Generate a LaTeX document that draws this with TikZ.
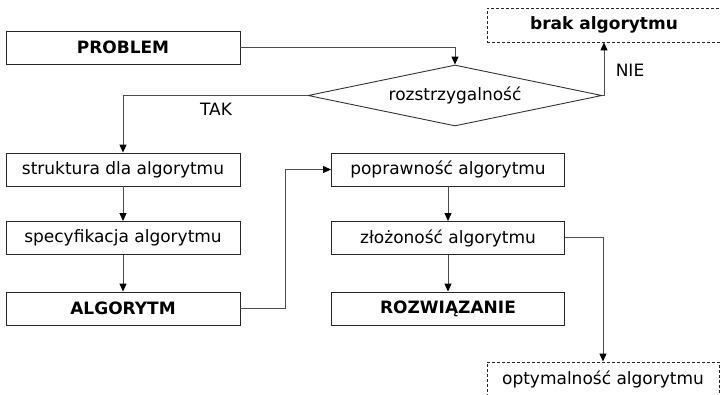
\documentclass[tikz,border=0pt]{standalone}
\usepackage{fontspec}
\setmainfont{DejaVu Sans}
\usetikzlibrary{shapes.geometric,arrows.meta}
\begin{document}
\begin{tikzpicture}[x=1pt,y=-1pt,
  box/.style={draw=black!85,line width=0.9pt,minimum width=234pt,minimum height=33pt,inner sep=0pt,font=\fontsize{17}{20}\selectfont},
  bbox/.style={box,font=\fontsize{17}{20}\selectfont\bfseries},
  dbox/.style={box,dashed,dash pattern=on 3pt off 2pt},
  conn/.style={draw=black!70,line width=1pt,-{Triangle[width=7pt,length=8pt,color=black]}},
  lbl/.style={font=\fontsize{17}{20}\selectfont,inner sep=0pt}]
\useasboundingbox (0,0) rectangle (720,395);
\node[bbox] (problem) at (123,47.5) {PROBLEM};
\node[draw=black!80,line width=0.9pt,diamond,shape aspect=4.8,minimum width=294pt,minimum height=61pt,inner sep=0pt,font=\fontsize{17}{20}\selectfont] (dia) at (455,95.5) {rozstrzygalność};
\node[dbox,minimum width=234pt,minimum height=34pt,font=\fontsize{17}{20}\selectfont\bfseries] (brak) at (604,25) {brak algorytmu};
\node[box] (str) at (123,169.5) {struktura dla algorytmu};
\node[box] (spec) at (123,238) {specyfikacja algorytmu};
\node[bbox] (alg) at (123,308.5) {ALGORYTM};
\node[box,minimum width=233pt] (pop) at (448,169.5) {poprawność algorytmu};
\node[box,minimum width=233pt] (zlo) at (448,238) {złożoność algorytmu};
\node[bbox,minimum width=233pt] (roz) at (448,308.5) {ROZWIĄZANIE};
\node[dbox,minimum width=232pt,minimum height=34pt] (opt) at (603,379) {optymalność algorytmu};
\node[lbl] (tak) at (216,109.5) {TAK};
\node[lbl] (nie) at (630,70) {NIE};
\draw[conn] (problem.east) -| (dia.north);
\draw[conn] (dia.east) -| (brak.south);
\draw[conn] (dia.west) -| (str.north);
\draw[conn] (str) -- (spec);
\draw[conn] (spec) -- (alg);
\draw[conn] (alg.east) -- ++(45,0) |- (pop.west);
\draw[conn] (pop) -- (zlo);
\draw[conn] (zlo) -- (roz);
\draw[conn] (zlo.east) -| (opt.north);
\end{tikzpicture}
\end{document}
